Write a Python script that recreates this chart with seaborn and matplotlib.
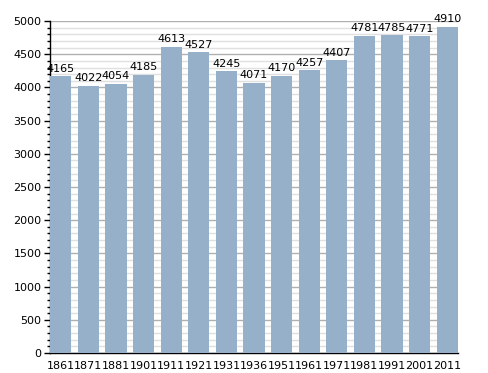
import pandas as pd
import seaborn as sns
import matplotlib.pyplot as plt
from matplotlib.ticker import MultipleLocator

# ------------------------
# Data
# ------------------------
years = ['1861', '1871', '1881', '1901', '1911', '1921', '1931', '1936',
         '1951', '1961', '1971', '1981', '1991', '2001', '2011']
population = [4165, 4022, 4054, 4185, 4613, 4527, 4245, 4071,
              4170, 4257, 4407, 4781, 4785, 4771, 4910]
BAR_COLOR = '#97b0c9'

df = pd.DataFrame({'year': years, 'pop': population})

# ------------------------
# Plotting
# ------------------------
sns.set_style('white')
plt.rcParams['font.family'] = ['DejaVu Sans']
plt.rcParams['text.color'] = 'black'
plt.rcParams['xtick.color'] = 'black'
plt.rcParams['ytick.color'] = 'black'

fig = plt.figure(figsize=(4.88, 3.73), dpi=100)
ax = fig.add_axes([0.1025, 0.0536, 0.836, 0.89])

sns.barplot(data=df, x='year', y='pop', color=BAR_COLOR, saturation=1,
            width=0.77, ax=ax, zorder=3, edgecolor='none', linewidth=0)

for i, v in enumerate(population):
    ax.text(i, v + 40, str(v), ha='center', va='bottom', fontsize=8,
            color='black', zorder=4)

# Axis settings
ax.set_ylim(0, 5000)
ax.set_xlim(-0.39, len(years) - 0.61)
ax.yaxis.set_major_locator(MultipleLocator(500))
ax.yaxis.set_minor_locator(MultipleLocator(100))
ax.xaxis.grid(False, which='both')
ax.yaxis.grid(True, which='major', color='#b0b0b0', linewidth=1, linestyle='-')
ax.yaxis.grid(True, which='minor', color='#e0e0e0', linewidth=1, linestyle='-')
ax.set_axisbelow(True)
ax.set_xlabel('')
ax.set_ylabel('')

for s in ['top', 'right']:
    ax.spines[s].set_visible(False)
for s in ['left', 'bottom']:
    ax.spines[s].set_color('black')
    ax.spines[s].set_linewidth(1)

ax.tick_params(axis='y', which='major', left=True, length=4, width=1,
               labelsize=8, pad=2, colors='black')
ax.tick_params(axis='y', which='minor', left=True, length=2, width=1,
               colors='black')
ax.tick_params(axis='x', bottom=False, labelsize=8, pad=2, colors='black')

plt.savefig('out.png', dpi=100)
